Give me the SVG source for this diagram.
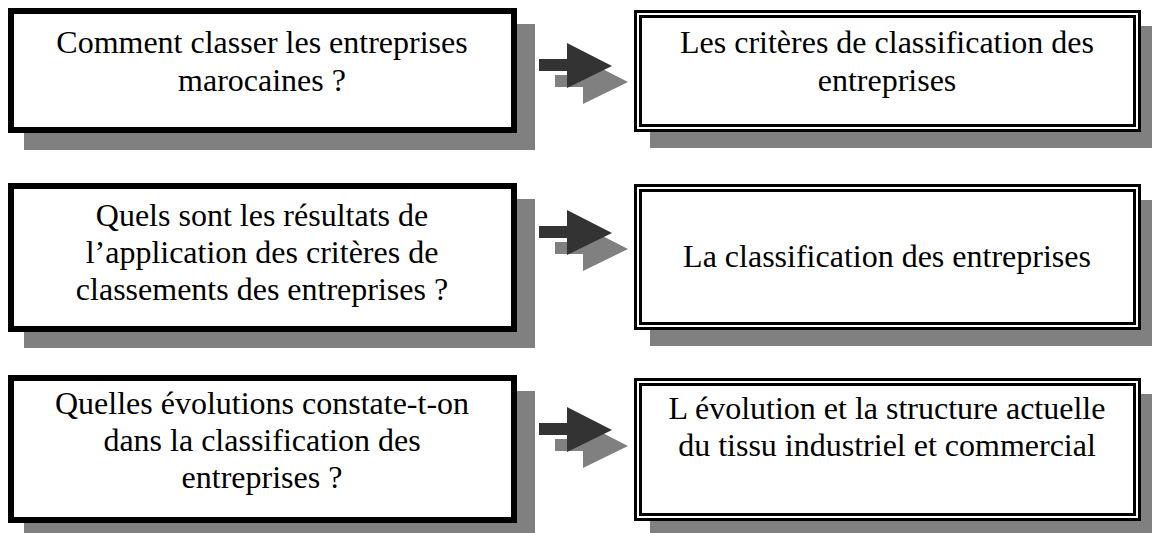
<svg xmlns="http://www.w3.org/2000/svg" width="1152" height="533" viewBox="0 0 1152 533">
<style>
.shadow{fill:#808080}
.qbox{fill:#fff;stroke:#000;stroke-width:6}
.dout{fill:#fff;stroke:#000;stroke-width:3}
.din{fill:none;stroke:#000;stroke-width:3}
.ad{fill:#333}
.as{fill:#808080}
</style>
<rect width="1152" height="533" fill="#fff"/>
<g id="q1">
<rect class="shadow" x="24" y="24" width="511" height="126"/>
<rect class="qbox" x="11" y="11" width="503" height="119"/>
<text x="262" y="53" font-size="32" font-family="Liberation Serif, serif" style="font-family:'Liberation Serif',serif" text-anchor="middle">Comment classer les entreprises</text>
<text x="262" y="91" font-size="32" font-family="Liberation Serif, serif" style="font-family:'Liberation Serif',serif" text-anchor="middle">marocaines ?</text>
</g>
<g id="a1">
<rect class="shadow" x="650" y="26" width="507" height="122"/>
<rect class="dout" x="635.5" y="11.5" width="504" height="119"/>
<rect class="din" x="640.5" y="16.5" width="494" height="109"/>
<text x="887" y="53" font-size="32" font-family="Liberation Serif, serif" style="font-family:'Liberation Serif',serif" text-anchor="middle">Les critères de classification des</text>
<text x="887" y="91" font-size="32" font-family="Liberation Serif, serif" style="font-family:'Liberation Serif',serif" text-anchor="middle">entreprises</text>
</g>
<g id="q2">
<rect class="shadow" x="24" y="199" width="511" height="149"/>
<rect class="qbox" x="11" y="186" width="503" height="143"/>
<text x="262" y="226" font-size="32" font-family="Liberation Serif, serif" style="font-family:'Liberation Serif',serif" text-anchor="middle">Quels sont les résultats de</text>
<text x="262" y="263" font-size="32" font-family="Liberation Serif, serif" style="font-family:'Liberation Serif',serif" text-anchor="middle">l’application des critères de</text>
<text x="262" y="300" font-size="32" font-family="Liberation Serif, serif" style="font-family:'Liberation Serif',serif" text-anchor="middle">classements des entreprises ?</text>
</g>
<g id="a2">
<rect class="shadow" x="650" y="200" width="507" height="146"/>
<rect class="dout" x="635.5" y="185.5" width="504" height="143"/>
<rect class="din" x="640.5" y="190.5" width="494" height="133"/>
<text x="887" y="267" font-size="32" font-family="Liberation Serif, serif" style="font-family:'Liberation Serif',serif" text-anchor="middle">La classification des entreprises</text>
</g>
<g id="q3">
<rect class="shadow" x="24" y="391" width="511" height="150"/>
<rect class="qbox" x="11" y="378" width="503" height="142"/>
<text x="262" y="414" font-size="32" font-family="Liberation Serif, serif" style="font-family:'Liberation Serif',serif" text-anchor="middle">Quelles évolutions constate-t-on</text>
<text x="262" y="451" font-size="32" font-family="Liberation Serif, serif" style="font-family:'Liberation Serif',serif" text-anchor="middle">dans la classification des</text>
<text x="262" y="488" font-size="32" font-family="Liberation Serif, serif" style="font-family:'Liberation Serif',serif" text-anchor="middle">entreprises ?</text>
</g>
<g id="a3">
<rect class="shadow" x="650" y="394" width="507" height="143"/>
<rect class="dout" x="635.5" y="379.5" width="504" height="140"/>
<rect class="din" x="640.5" y="384.5" width="494" height="130"/>
<text x="887" y="419" font-size="32" font-family="Liberation Serif, serif" style="font-family:'Liberation Serif',serif" text-anchor="middle">L évolution et la structure actuelle</text>
<text x="887" y="456" font-size="32" font-family="Liberation Serif, serif" style="font-family:'Liberation Serif',serif" text-anchor="middle">du tissu industriel et commercial</text>
</g>
<g id="connectors">
<polygon class="as" points="555,75 583,75 583,59 628,82 583,104 583,87 555,87"/>
<polygon class="ad" points="539,59 567,59 567,43 612,66 567,88 567,71 539,71"/>
<polygon class="as" points="555,242 583,242 583,226 628,249 583,271 583,254 555,254"/>
<polygon class="ad" points="539,226 567,226 567,210 612,233 567,255 567,238 539,238"/>
<polygon class="as" points="555,439 583,439 583,423 628,446 583,468 583,451 555,451"/>
<polygon class="ad" points="539,423 567,423 567,407 612,430 567,452 567,435 539,435"/>
</g>
</svg>
